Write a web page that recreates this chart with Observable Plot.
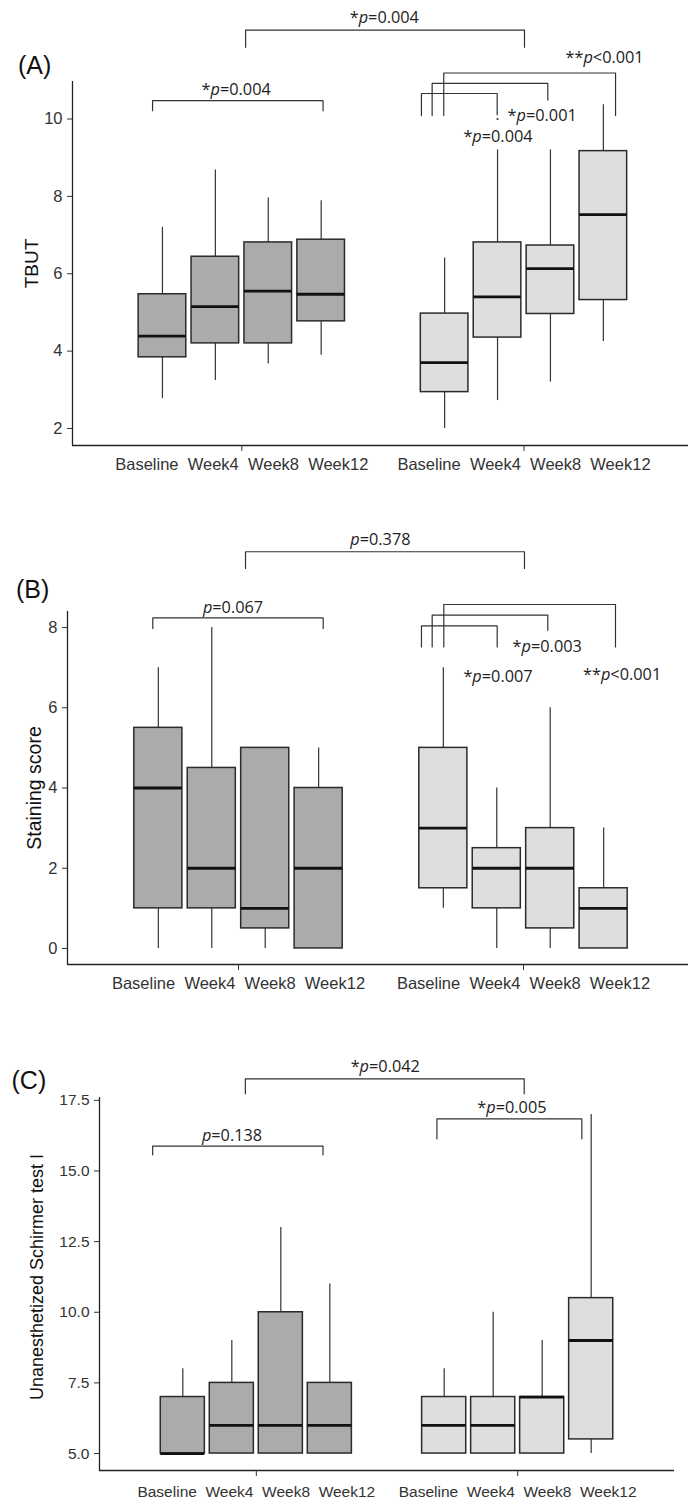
<!DOCTYPE html>
<html><head><meta charset="utf-8">
<script src="https://cdn.jsdelivr.net/npm/d3@7"></script>
<script src="https://cdn.jsdelivr.net/npm/@observablehq/plot@0.6"></script>
<style>
body{margin:0;background:#fff;}
#chart{width:688px;}
#chart svg{display:block;}
</style></head><body><div id="chart"></div>
<script>
// ---------- categories ----------
const times = ["Baseline", "Week4", "Week8", "Week12"];
const groups = ["Group 1", "Group 2"];
const groupFill = ["#ababab", "#dedede"];

// ---------- Panel A: TBUT (group 1 then group 2; Baseline..Week12) ----------
const tbutMin    = [2.77, 3.24, 3.67, 3.89, 2.00, 2.72, 3.20, 4.25];
const tbutQ1     = [3.84, 4.20, 4.20, 4.77, 2.94, 4.35, 4.96, 5.32];
const tbutMedian = [4.39, 5.15, 5.55, 5.47, 3.70, 5.40, 6.13, 7.53];
const tbutQ3     = [5.47, 6.44, 6.81, 6.88, 4.97, 6.81, 6.73, 9.17];
const tbutMax    = [7.20, 8.68, 7.96, 7.89, 6.41, 9.20, 9.20, 10.37];
const tbutOutlierBox = [5];
const tbutOutlierValue = [10.0];
const tbutTicks = [2, 4, 6, 8, 10];
const tbutBrX1 = [1.0135, 0.6837, 1.6365, 1.6745, 1.7156];
const tbutBrX2 = [2.0018, 1.2880, 1.9050, 2.0844, 2.3245];
const tbutBrY  = [12.30, 10.475, 10.66, 10.92, 11.19];
const tbutBrE1 = [11.853, 10.217, 10.09, 10.09, 10.09];
const tbutBrE2 = [11.853, 10.217, 10.11, 10.49, 10.09];
const tbutPText = ["*p=0.004", "*p=0.004", "**p<0.001", "*p=0.001", "*p=0.004"];
const tbutPX = [1.505, 0.980, 2.2855, 2.0645, 1.9078];
const tbutPY = [12.473, 10.62, 11.44, 9.96, 9.40];

// ---------- Panel B: Staining score ----------
const stainMin    = [0, 0, 0, 0, 1, 0, 0, 0];
const stainQ1     = [1, 1, 0.5, 0, 1.5, 1, 0.5, 0];
const stainMedian = [4, 2, 1, 2, 3, 2, 2, 1];
const stainQ3     = [5.5, 4.5, 5, 4, 5, 2.5, 3, 1.5];
const stainMax    = [7, 8, 5, 5, 7, 4, 6, 3];
const stainTicks = [0, 2, 4, 6, 8];
const stainBrX1 = [1.0246, 0.6993, 1.6420, 1.6796, 1.7204];
const stainBrX2 = [2.0035, 1.2972, 1.9077, 2.0853, 2.3228];
const stainBrY  = [9.89, 8.24, 8.04, 8.3075, 8.575];
const stainBrE1 = [9.475, 7.975, 7.515, 7.515, 7.515];
const stainBrE2 = [9.475, 7.975, 7.515, 7.93, 7.515];
const stainPText = ["p=0.378", "p=0.067", "*p=0.003", "*p=0.007", "**p<0.001"];
const stainPX = [1.498, 0.9807, 2.0832, 1.9105, 2.346];
const stainPY = [10.06, 8.365, 7.39, 6.64, 6.68];

// ---------- Panel C: Unanesthetized Schirmer test I ----------
const schMin    = [5, 5, 5, 5, 5, 5, 5, 5];
const schQ1     = [5, 5, 5, 5, 5, 5, 5, 5.5];
const schMedian = [5, 6, 6, 6, 6, 6, 7, 9];
const schQ3     = [7, 7.5, 10, 7.5, 7, 7, 7, 10.5];
const schMax    = [8, 9, 13, 11, 8, 10, 9, 17];
const schTicks = [5, 7.5, 10, 12.5, 15, 17.5];
const schBrX1 = [0.958, 0.6034, 1.691];
const schBrX2 = [2.0249, 1.2551, 2.2455];
const schBrY  = [18.26, 15.877, 16.846];
const schBrE1 = [17.73, 15.573, 16.139];
const schBrE2 = [17.73, 15.573, 16.139];
const schPText = ["*p=0.042", "p=0.138", "*p=0.005"];
const schPX = [1.4933, 0.907, 1.978];
const schPY = [18.49, 16.05, 17.04];

// ---------- helpers ----------
const DODGE = 0.75 / times.length;
const BOXW = 0.9 * DODGE;

function boxData(mins, q1s, meds, q3s, maxs) {
  return mins.map((mn, i) => {
    const gi = Math.floor(i / times.length), ti = i % times.length;
    const c = gi + 1 + (ti - (times.length - 1) / 2) * DODGE;
    return {group: groups[gi], time: times[ti], x: c, x1: c - BOXW / 2, x2: c + BOXW / 2,
      fill: groupFill[gi], min: mn, q1: q1s[i], med: meds[i], q3: q3s[i], max: maxs[i]};
  });
}
function bracketPoints(x1s, x2s, ys, e1s, e2s) {
  const pts = [];
  x1s.forEach((x1, i) => {
    const x2 = x2s[i], y = ys[i];
    pts.push({id: i, x: x1, y: e1s[i]}, {id: i, x: x1, y}, {id: i, x: x2, y}, {id: i, x: x2, y: e2s[i]});
  });
  return pts;
}
function pvalData(texts, xs, ys) {
  return texts.map((t, i) => ({text: t, x: xs[i], y: ys[i]}));
}

const AX = "Arial, 'Liberation Sans', sans-serif";
const PF = "'Segoe UI', 'Open Sans', sans-serif";

function drawPanel(p) {
  const data = boxData(...p.stats);
  const tickLabel = times.join("\u00a0\u00a0");
  const outl = (p.outBox || []).map((bi, k) => ({x: data[bi].x, y: p.outVal[k]}));
  const chart = Plot.plot({
    width: 688, height: p.height,
    marginTop: p.mt, marginBottom: p.mb, marginLeft: p.ml, marginRight: p.mr,
    x: {type: "linear", domain: p.xDomain},
    y: {type: "linear", domain: p.yDomain},
    color: {type: "identity"},
    style: {fontFamily: AX, fontSize: p.tickFont + "px", color: "#333", background: "#fff"},
    marks: [
      Plot.ruleX(data, {x: "x", y1: "min", y2: "q1", stroke: "#333", strokeWidth: 1.2}),
      Plot.ruleX(data, {x: "x", y1: "q3", y2: "max", stroke: "#333", strokeWidth: 1.2}),
      Plot.rect(data, {x1: "x1", x2: "x2", y1: "q1", y2: "q3", fill: "fill", stroke: "#2b2b2b", strokeWidth: 1.5}),
      Plot.ruleY(data, {x1: "x1", x2: "x2", y: "med", stroke: "#111", strokeWidth: 2.8}),
      Plot.dot(outl, {x: "x", y: "y", r: 1.1, fill: "#333", stroke: null}),
      Plot.ruleX([p.xDomain[0]], {stroke: "#222", strokeWidth: 1.3}),
      Plot.ruleY([p.yDomain[0]], {stroke: "#222", strokeWidth: 1.3}),
      Plot.axisY({ticks: p.yTicks, tickFormat: p.yFormat, tickSize: 5, tickPadding: 5, label: null, fontSize: p.tickFont, fill: "#333"}),
      Plot.axisX({ticks: [1, 2], tickFormat: () => tickLabel, tickSize: 6, tickPadding: p.xPad, label: null, fontSize: p.tickFont, fill: "#333"}),
      Plot.line(bracketPoints(...p.brackets), {x: "x", y: "y", z: "id", stroke: "#333", strokeWidth: 1.2}),
      Plot.text(pvalData(...p.pvals), {x: "x", y: "y", text: "text", lineAnchor: "bottom", fontFamily: PF, fontSize: 16.3, fill: "#222"}),
      Plot.text([p.ylabel], {frameAnchor: "left", textAnchor: "middle", lineAnchor: "middle", rotate: -90, dx: p.ylDx, dy: p.ylDy, fontSize: p.ylFont, fill: "#111", fontFamily: AX}),
      Plot.text([p.tag], {frameAnchor: "top-left", textAnchor: "start", lineAnchor: "bottom", dx: p.tagDx, dy: p.tagDy, fontSize: 25, fill: "#111", fontFamily: AX})
    ]
  });
  // italic p in the p-value annotations
  const ns = "http://www.w3.org/2000/svg";
  chart.querySelectorAll("text").forEach(t => {
    if (t.querySelector("tspan")) return;
    const m = (t.textContent || "").match(/^(\**)p([=<].*)$/);
    if (!m) return;
    t.textContent = "";
    if (m[1]) { const a = document.createElementNS(ns, "tspan"); a.textContent = m[1]; t.appendChild(a); }
    const b = document.createElementNS(ns, "tspan"); b.setAttribute("font-style", "italic"); b.textContent = "p"; t.appendChild(b);
    const c = document.createElementNS(ns, "tspan"); c.textContent = m[2]; t.appendChild(c);
  });
  document.getElementById("chart").appendChild(chart);
}

drawPanel({
  height: 490, mt: 81, mb: 45, ml: 72, mr: 0,
  xDomain: [0.4, 2.583], yDomain: [1.56, 10.97],
  stats: [tbutMin, tbutQ1, tbutMedian, tbutQ3, tbutMax],
  outBox: tbutOutlierBox, outVal: tbutOutlierValue,
  yTicks: tbutTicks, yFormat: d3.format("d"), tickFont: 16.5, xPad: 7,
  brackets: [tbutBrX1, tbutBrX2, tbutBrY, tbutBrE1, tbutBrE2],
  pvals: [tbutPText, tbutPX, tbutPY],
  ylabel: "TBUT", ylDx: -41, ylDy: 0, ylFont: 19,
  tag: "(A)", tagDx: -54.5, tagDy: -8
});
drawPanel({
  height: 510, mt: 121, mb: 36, ml: 67, mr: 0,
  xDomain: [0.4, 2.579], yDomain: [-0.4, 8.4],
  stats: [stainMin, stainQ1, stainMedian, stainQ3, stainMax],
  yTicks: stainTicks, yFormat: d3.format("d"), tickFont: 16.5, xPad: 6.7,
  brackets: [stainBrX1, stainBrX2, stainBrY, stainBrE1, stainBrE2],
  pvals: [stainPText, stainPX, stainPY],
  ylabel: "Staining score", ylDx: -33, ylDy: 0, ylFont: 19.5,
  tag: "(B)", tagDx: -51.6, tagDy: -14
});
drawPanel({
  height: 502, mt: 97, mb: 32, ml: 99, mr: 14,
  xDomain: [0.4, 2.6], yDomain: [4.4, 17.6],
  stats: [schMin, schQ1, schMedian, schQ3, schMax],
  yTicks: schTicks, yFormat: d3.format(".1f"), tickFont: 15.5, xPad: 9,
  brackets: [schBrX1, schBrX2, schBrY, schBrE1, schBrE2],
  pvals: [schPText, schPX, schPY],
  ylabel: "Unanesthetized Schirmer test I", ylDx: -62, ylDy: -7, ylFont: 18,
  tag: "(C)", tagDx: -88, tagDy: -9
});
</script>
</body></html>
